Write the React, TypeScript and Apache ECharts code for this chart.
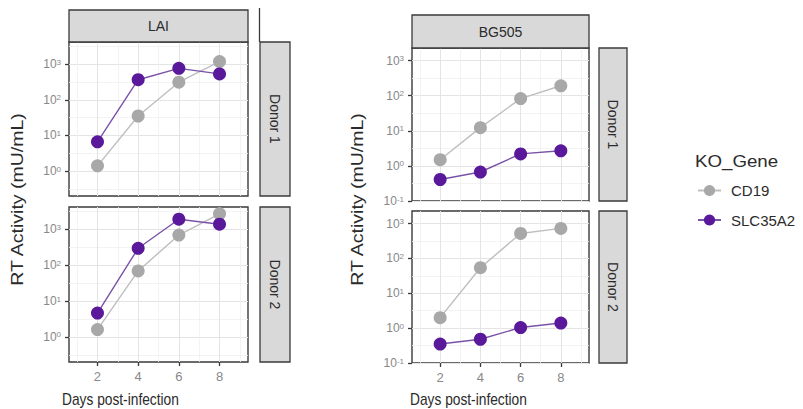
import React, { useEffect, useRef } from "react";
import * as echarts from "echarts";

// ---- data ----
const days = [2, 4, 6, 8];
const genes = ["CD19", "SLC35A2"];
const geneColors = ["#A8A8A8", "#5A189A"];
const lineColors = ["#BEBEBE", "#7A52A8"];

const laiDonor1CD19 = [1.4, 35, 310, 1180];
const laiDonor1SLC = [6.6, 365, 760, 530];
const laiDonor2CD19 = [1.6, 69, 690, 2700];
const laiDonor2SLC = [4.6, 295, 1900, 1380];
const bgDonor1CD19 = [1.5, 12.3, 83, 192];
const bgDonor1SLC = [0.41, 0.67, 2.2, 2.7];
const bgDonor2CD19 = [2.0, 54, 520, 725];
const bgDonor2SLC = [0.35, 0.48, 1.04, 1.4];

const xMajor = [2, 4, 6, 8];
const xMinor = [1, 3, 5, 7, 9];
const yMajorLAI = [0, 1, 2, 3]; // log10 exponents
const yMajorBG = [-1, 0, 1, 2, 3];
const yMinor = [-0.5, 0.5, 1.5, 2.5, 3.5];

const virusLabels = ["LAI", "BG505"];
const donorLabels = ["Donor 1", "Donor 2"];
const yTitle = "RT Activity (mU/mL)";
const xTitle = "Days post-infection";
const legendTitle = "KO_Gene";

const FONT = "'Liberation Sans', Arial, Helvetica, sans-serif";

type Panel = {
  left: number; top: number; width: number; height: number;
  yMin: number; yMax: number; majors: number[]; bottom: boolean;
  cd19: number[]; slc: number[];
};

const panels: Panel[] = [
  { left: 69, top: 42, width: 179, height: 154, yMin: -0.7, yMax: 3.62, majors: yMajorLAI, bottom: false, cd19: laiDonor1CD19, slc: laiDonor1SLC },
  { left: 69, top: 207, width: 179, height: 155, yMin: -0.7, yMax: 3.62, majors: yMajorLAI, bottom: true, cd19: laiDonor2CD19, slc: laiDonor2SLC },
  { left: 412, top: 48, width: 177, height: 153, yMin: -1.0, yMax: 3.36, majors: yMajorBG, bottom: false, cd19: bgDonor1CD19, slc: bgDonor1SLC },
  { left: 412, top: 211, width: 177, height: 152, yMin: -1.0, yMax: 3.36, majors: yMajorBG, bottom: true, cd19: bgDonor2CD19, slc: bgDonor2SLC },
];

function buildOption() {
  const grid: any[] = [];
  const xAxis: any[] = [];
  const yAxis: any[] = [];
  const series: any[] = [];

  panels.forEach((p, i) => {
    grid.push({
      left: p.left, top: p.top, width: p.width, height: p.height,
      show: true, backgroundColor: "#ffffff", borderColor: "#3a3a3a", borderWidth: 1.4,
      containLabel: false,
    });
    xAxis.push({
      gridIndex: i, type: "value", min: 0.6, max: 9.4, position: "bottom",
      axisLine: { show: false, onZero: false },
      axisTick: { show: p.bottom, customValues: xMajor, length: 4, lineStyle: { color: "#3a3a3a", width: 1.3 } },
      axisLabel: { show: p.bottom, customValues: xMajor, color: "#888888", fontSize: 13, margin: 8, fontFamily: FONT },
      splitLine: { show: true, lineStyle: { color: "#e4e4e4", width: 1 } },
    });
    xAxis.push({
      gridIndex: i, type: "value", min: 0.6, max: 9.4, position: "bottom",
      axisLine: { show: false, onZero: false },
      axisTick: { show: false, customValues: xMinor },
      axisLabel: { show: false },
      splitLine: { show: true, lineStyle: { color: "#f0f0f0", width: 0.8 } },
    });
    yAxis.push({
      gridIndex: i, type: "value", min: p.yMin, max: p.yMax, position: "left",
      axisLine: { show: false, onZero: false },
      axisTick: { show: true, customValues: p.majors, length: 4, lineStyle: { color: "#3a3a3a", width: 1.3 } },
      axisLabel: {
        customValues: p.majors, margin: 8,
        formatter: (v: number) => `{b|10}{s|${Math.round(v)}}`,
        rich: {
          b: { fontSize: 12, color: "#888888", fontFamily: FONT, lineHeight: 12, verticalAlign: "bottom" },
          s: { fontSize: 8, color: "#888888", fontFamily: FONT, lineHeight: 8, verticalAlign: "top" },
        },
      },
      splitLine: { show: true, lineStyle: { color: "#e4e4e4", width: 1 } },
    });
    yAxis.push({
      gridIndex: i, type: "value", min: p.yMin, max: p.yMax, position: "left",
      axisLine: { show: false, onZero: false },
      axisTick: { show: false, customValues: yMinor },
      axisLabel: { show: false },
      splitLine: { show: true, lineStyle: { color: "#f0f0f0", width: 0.8 } },
    });

    [p.cd19, p.slc].forEach((vals, g) => {
      series.push({
        name: genes[g], type: "line",
        xAxisIndex: 2 * i, yAxisIndex: 2 * i,
        data: days.map((d, k) => [d, Math.log10(vals[k])]),
        symbol: "circle", symbolSize: 13,
        itemStyle: { color: geneColors[g] },
        lineStyle: { color: lineColors[g], width: 1.4 },
        z: 2 + g,
        emphasis: { disabled: true },
      });
    });
  });

  const strip = (x: number, y: number, w: number, h: number, label: string, vertical: boolean) => [
    {
      type: "rect", shape: { x, y, width: w, height: h },
      style: { fill: "#d9d9d9", stroke: "#3a3a3a", lineWidth: 1.3 }, z: 10,
    },
    {
      type: "text", x: x + w / 2, y: y + h / 2, rotation: vertical ? -Math.PI / 2 : 0,
      style: { text: label, fontSize: 14, fill: "#2b2b2b", align: "center", verticalAlign: "middle", fontFamily: FONT },
      z: 11,
    },
  ];

  const graphic: any[] = [
    ...strip(69, 10, 179, 32, virusLabels[0], false),
    ...strip(412, 15, 177, 33, virusLabels[1], false),
    ...strip(260, 42, 30, 154, donorLabels[0], true),
    ...strip(260, 207, 30, 155, donorLabels[1], true),
    ...strip(599, 48, 28, 153, donorLabels[0], true),
    ...strip(599, 211, 28, 152, donorLabels[1], true),
    {
      type: "line", shape: { x1: 259.5, y1: 8, x2: 259.5, y2: 42 },
      style: { stroke: "#3a3a3a", lineWidth: 1.3 }, z: 10,
    },
    {
      type: "text", x: 18, y: 199.5, rotation: Math.PI / 2, scaleX: 1.22,
      style: { text: yTitle, fontSize: 16, fill: "#2b2b2b", align: "center", verticalAlign: "middle", fontFamily: FONT },
    },
    {
      type: "text", x: 358, y: 199.5, rotation: Math.PI / 2, scaleX: 1.22,
      style: { text: yTitle, fontSize: 16, fill: "#2b2b2b", align: "center", verticalAlign: "middle", fontFamily: FONT },
    },
    {
      type: "text", x: 62, y: 399, scaleX: 0.86,
      style: { text: xTitle, fontSize: 16, fill: "#2b2b2b", align: "left", verticalAlign: "middle", fontFamily: FONT },
    },
    {
      type: "text", x: 410, y: 399, scaleX: 0.86,
      style: { text: xTitle, fontSize: 16, fill: "#2b2b2b", align: "left", verticalAlign: "middle", fontFamily: FONT },
    },
    {
      type: "text", x: 695, y: 161, scaleX: 1.1,
      style: { text: legendTitle, fontSize: 17, fill: "#2b2b2b", align: "left", verticalAlign: "middle", fontFamily: FONT },
    },
  ];

  return {
    animation: false,
    backgroundColor: "#ffffff",
    grid, xAxis, yAxis, series, graphic,
    legend: {
      data: genes, orient: "vertical", left: 697, top: 183,
      itemWidth: 23, itemHeight: 14, itemGap: 14.5, padding: 0,
      selectedMode: false,
      textStyle: { fontSize: 15, color: "#2b2b2b", fontFamily: FONT, padding: [0, 0, 0, 5] },
    },
  };
}

export default function App() {
  const ref = useRef<HTMLDivElement>(null);
  useEffect(() => {
    if (!ref.current) return;
    const chart = echarts.init(ref.current, null, { renderer: "svg" });
    chart.setOption(buildOption() as any);
    return () => chart.dispose();
  }, []);
  return (
    <div
      ref={ref}
      style={{ position: "fixed", left: 0, top: 0, width: 803, height: 409, background: "#fff" }}
    />
  );
}
